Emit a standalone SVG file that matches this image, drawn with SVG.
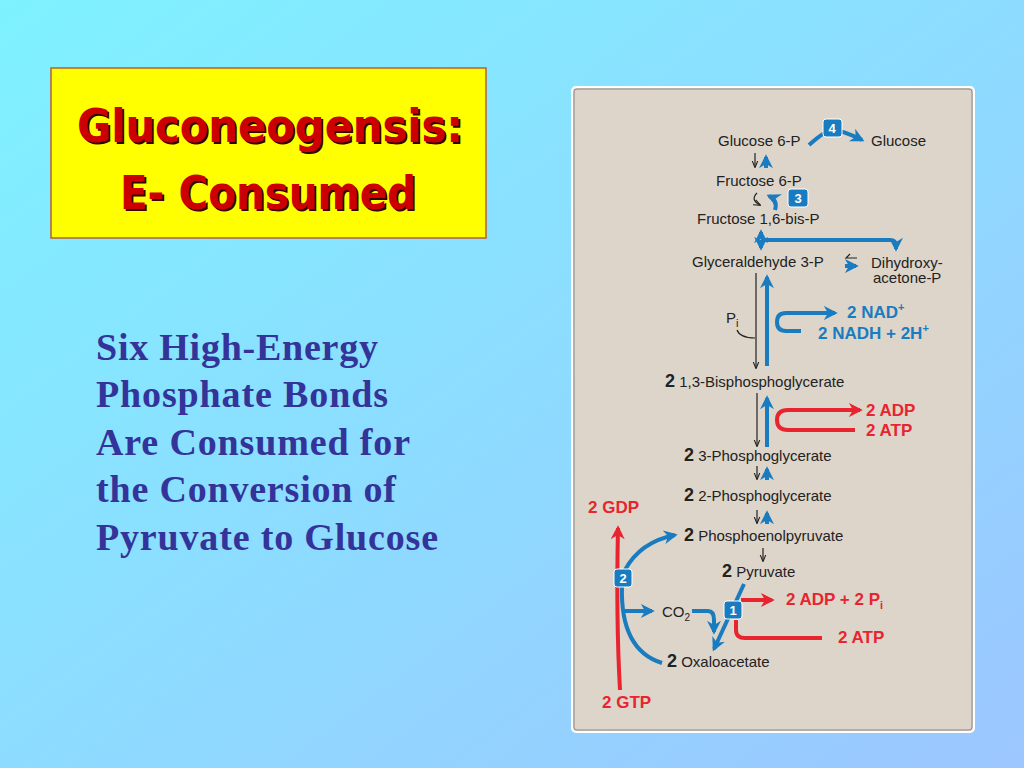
<svg xmlns="http://www.w3.org/2000/svg" width="1024" height="768" viewBox="0 0 1024 768">
<defs>
<linearGradient id="bg" x1="0" y1="0" x2="1" y2="1"><stop offset="0" stop-color="#7ef2ff"/><stop offset="1" stop-color="#9cc6ff"/></linearGradient>
<marker id="ab" viewBox="0 0 10 10" refX="8" refY="5" markerWidth="3.5" markerHeight="3.5" orient="auto"><path d="M0,0 L10,5 L0,10 L3,5 z" fill="#1a7cc0"/></marker>
<marker id="ar" viewBox="0 0 10 10" refX="8" refY="5" markerWidth="3.5" markerHeight="3.5" orient="auto"><path d="M0,0 L10,5 L0,10 L3,5 z" fill="#e8242f"/></marker>
<marker id="ak" viewBox="0 0 10 10" refX="9" refY="5" markerWidth="6" markerHeight="6" orient="auto"><path d="M0,1 L10,5 L0,9" fill="none" stroke="#222" stroke-width="1.5"/></marker>
</defs>
<style>
.t{font-family:"Liberation Sans",Arial,sans-serif;font-size:15px;fill:#222}
.b{font-weight:bold;font-size:18px}
.bl{font-family:"Liberation Sans",Arial,sans-serif;font-weight:bold;font-size:17px;fill:#1a7cc0}
.rd{font-family:"Liberation Sans",Arial,sans-serif;font-weight:bold;font-size:17px;fill:#e8242f}
.sb{fill:none;stroke:#1a7cc0;stroke-width:4}
.sr{fill:none;stroke:#e8242f;stroke-width:4}
.sk{fill:none;stroke:#222;stroke-width:1.2}
.box{fill:#1a7cc0;stroke:#fff;stroke-width:1}
.bt{font-family:"Liberation Sans",Arial,sans-serif;font-weight:bold;font-size:13px;fill:#fff;text-anchor:middle}
.side{font-family:"Liberation Serif","Times New Roman",serif;font-weight:bold;font-size:38px;fill:#333399}
.title{font-family:"DejaVu Sans",sans-serif;font-weight:bold;font-size:46px;fill:#cc0000;text-anchor:middle}
</style>
<rect width="1024" height="768" fill="url(#bg)"/>
<g id="title">
<rect x="51" y="68" width="435" height="170" fill="#ffff00" stroke="#b8602a" stroke-width="1.5"/>
<text class="title" x="272" y="144" textLength="386" lengthAdjust="spacingAndGlyphs" style="fill:#300">Gluconeogensis:</text>
<text class="title" x="270" y="142" textLength="386" lengthAdjust="spacingAndGlyphs">Gluconeogensis:</text>
<text class="title" x="270" y="211" textLength="296" lengthAdjust="spacingAndGlyphs" style="fill:#300">E- Consumed</text>
<text class="title" x="268" y="209" textLength="296" lengthAdjust="spacingAndGlyphs">E- Consumed</text>
</g>
<g id="side">
<text class="side" x="96" y="360" textLength="282">Six High-Energy</text>
<text class="side" x="96" y="407" textLength="292">Phosphate Bonds</text>
<text class="side" x="96" y="455" textLength="314">Are Consumed for</text>
<text class="side" x="96" y="502" textLength="300">the Conversion of</text>
<text class="side" x="96" y="550" textLength="342">Pyruvate to Glucose</text>
</g>
<g id="panel">
<rect x="572" y="87" width="402" height="645" rx="4" fill="#ddd5ca" stroke="#fff" stroke-width="2"/>
<rect x="574" y="89" width="398" height="641" rx="3" fill="none" stroke="#888" stroke-width="1"/>
</g>
<g id="connectors">
<path class="sb" d="M809,145 Q826,130 832,130 Q842,130 862,140" marker-end="url(#ab)"/>
<path class="sk" d="M755,153 V167" marker-end="url(#ak)"/>
<path class="sb" d="M766,168 V157" stroke-width="3" marker-end="url(#ab)"/>
<path class="sk" d="M757,193 Q750,200 760,205" marker-end="url(#ak)"/>
<path class="sb" d="M775,210 Q778,200 769,196" stroke-width="3" marker-end="url(#ab)"/>
<path class="sb" d="M761,238 V232" stroke-width="2.5" marker-end="url(#ab)"/>
<path class="sb" d="M761,240 V248" stroke-width="2" marker-end="url(#ab)"/>
<path class="sb" d="M761,240 H890 Q896,240 896,246 V249" stroke-width="3" marker-end="url(#ab)"/>
<path class="sk" d="M857,258 H846 L850,254" stroke-width="1.4"/>
<path class="sb" d="M845,266 H856" stroke-width="3" marker-end="url(#ab)"/>
<path class="sk" d="M756,273 V368" marker-end="url(#ak)"/>
<path class="sb" d="M767,366 V277" marker-end="url(#ab)"/>
<path class="sk" d="M737,330 Q740,338 755,338"/>
<path class="sb" d="M801,331 H786 Q777,331 777,322 Q777,313 786,313 H835" marker-end="url(#ab)"/>
<path class="sk" d="M757,393 V446" marker-end="url(#ak)"/>
<path class="sb" d="M767,447 V398" marker-end="url(#ab)"/>
<path class="sr" d="M855,430 H788 Q777,430 777,420 Q777,410 788,410 H860" marker-end="url(#ar)"/>
<path class="sk" d="M757,466 V479" marker-end="url(#ak)"/>
<path class="sb" d="M767,480 V469" stroke-width="3" marker-end="url(#ab)"/>
<path class="sk" d="M757,510 V523" marker-end="url(#ak)"/>
<path class="sb" d="M767,524 V513" stroke-width="3" marker-end="url(#ab)"/>
<path class="sk" d="M763,548 V561" marker-end="url(#ak)"/>
<path class="sr" d="M620,690 Q616,620 618,528" marker-end="url(#ar)"/>
<path class="sb" d="M625,570 Q640,542 675,535" marker-end="url(#ab)"/>
<path class="sb" d="M622,586 Q620,650 662,663"/>
<path class="sb" d="M622,611 H652" marker-end="url(#ab)"/>
<path class="sb" d="M692,611 H708 Q714,611 714,620 V632" marker-end="url(#ab)"/>
<path class="sb" d="M744,584 L714,649" marker-end="url(#ab)"/>
<path class="sr" d="M741,600 H772" marker-end="url(#ar)"/>
<path class="sr" d="M736,620 V630 Q736,638 745,638 H822"/>
</g>
<g id="badges">
<rect class="box" x="823" y="119" width="19" height="18" rx="3"/><text class="bt" x="832" y="133">4</text>
<rect class="box" x="788" y="189" width="20" height="18" rx="3"/><text class="bt" x="798" y="203">3</text>
<rect class="box" x="614" y="569" width="18" height="18" rx="3"/><text class="bt" x="623" y="583">2</text>
<rect class="box" x="724" y="601" width="18" height="18" rx="3"/><text class="bt" x="733" y="615">1</text>
</g>
<g id="labels">
<text class="t" x="718" y="146">Glucose 6-P</text>
<text class="t" x="871" y="146">Glucose</text>
<text class="t" x="716" y="186">Fructose 6-P</text>
<text class="t" x="697" y="224">Fructose 1,6-bis-P</text>
<text class="t" x="692" y="267">Glyceraldehyde 3-P</text>
<text class="t" x="871" y="268">Dihydroxy-</text>
<text class="t" x="873" y="283">acetone-P</text>
<text class="t" x="726" y="323" font-size="16">P<tspan font-size="11" dy="4">i</tspan></text>
<text class="bl" x="847" y="318">2 NAD<tspan font-size="11" dy="-7">+</tspan></text>
<text class="bl" x="818" y="339">2 NADH + 2H<tspan font-size="11" dy="-7">+</tspan></text>
<text class="t" x="665" y="387"><tspan class="b">2</tspan> 1,3-Bisphosphoglycerate</text>
<text class="rd" x="866" y="416">2 ADP</text>
<text class="rd" x="866" y="436">2 ATP</text>
<text class="t" x="684" y="461"><tspan class="b">2</tspan> 3-Phosphoglycerate</text>
<text class="t" x="684" y="501"><tspan class="b">2</tspan> 2-Phosphoglycerate</text>
<text class="rd" x="588" y="513">2 GDP</text>
<text class="t" x="684" y="541"><tspan class="b">2</tspan> Phosphoenolpyruvate</text>
<text class="t" x="722" y="577"><tspan class="b">2</tspan> Pyruvate</text>
<text class="rd" x="786" y="605">2 ADP + 2 P<tspan font-size="11" dy="4">i</tspan></text>
<text class="t" x="662" y="617">CO<tspan font-size="10" dy="4">2</tspan></text>
<text class="rd" x="838" y="643">2 ATP</text>
<text class="t" x="667" y="667"><tspan class="b">2</tspan> Oxaloacetate</text>
<text class="rd" x="602" y="708">2 GTP</text>
</g>
</svg>
